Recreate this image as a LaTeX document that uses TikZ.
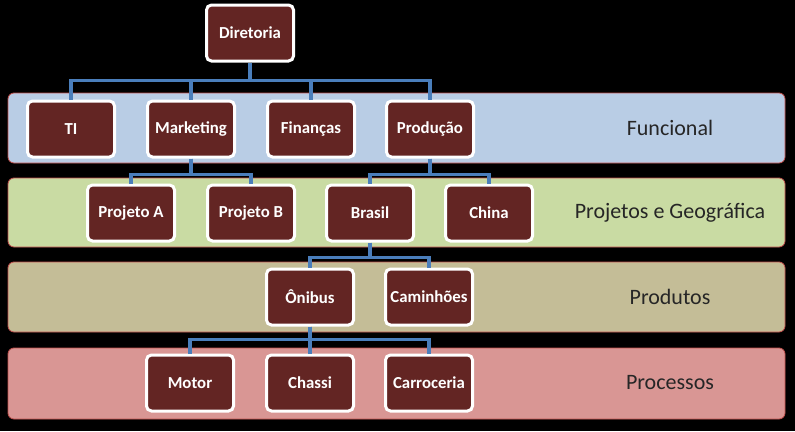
\documentclass[tikz,border=0pt]{standalone}
\usepackage{fontspec}
\setmainfont{Carlito}
\definecolor{boxred}{HTML}{632523}
\definecolor{conn}{HTML}{4A7EBB}
\definecolor{bandA}{HTML}{B9CDE5}
\definecolor{bandB}{HTML}{C9DBA3}
\definecolor{bandC}{HTML}{C4BD97}
\definecolor{bandD}{HTML}{D99694}
\definecolor{bandedge}{HTML}{C0504D}
\begin{document}
\begin{tikzpicture}[x=1pt,y=-1pt,
  unit/.style={draw=white, line width=3pt, fill=boxred, rounded corners=5pt,
    minimum width=87pt, minimum height=56pt, inner sep=0pt,
    text=white, font=\fontsize{16.8}{19}\selectfont\bfseries},
  band/.style={draw=bandedge, line width=0.8pt, rounded corners=6pt},
  bandlabel/.style={font=\fontsize{22}{26}\selectfont, text=black!85, inner sep=0pt},
  link/.style={draw=conn, line width=3.2pt}]
\fill[black] (0,0) rectangle (795,431);
\useasboundingbox (0,0) rectangle (795,431);
% bands
\draw[band, fill=bandA] (8,93) rectangle (785,163);
\draw[band, fill=bandB] (8,178) rectangle (785,247);
\draw[band, fill=bandC] (8,262) rectangle (785,332);
\draw[band, fill=bandD] (8,348) rectangle (785,419);
\node[bandlabel] (lf) at (670,128) {Funcional};
\node[bandlabel] (lp) at (670,213) {Projetos e Geográfica};
\node[bandlabel] (lpr) at (670,297) {Produtos};
\node[bandlabel] (lpc) at (670,383) {Processos};
% nodes
\node[unit] (dir) at (250,33) {Diretoria};
\node[unit] (ti) at (71,129) {TI};
\node[unit] (mkt) at (191,129) {Marketing};
\node[unit] (fin) at (311,129) {Finanças};
\node[unit] (prod) at (430,129) {Produção};
\node[unit] (pa) at (131,213) {Projeto A};
\node[unit] (pb) at (251,213) {Projeto B};
\node[unit] (br) at (370,213) {Brasil};
\node[unit] (cn) at (489,213) {China};
\node[unit] (oni) at (310,297) {Ônibus};
\node[unit] (cam) at (429,297) {Caminhões};
\node[unit] (mot) at (190,383) {Motor};
\node[unit] (cha) at (310,383) {Chassi};
\node[unit] (car) at (429,383) {Carroceria};
% connectors
\foreach \c in {ti,mkt,fin,prod}
  \draw[link] (dir.south) -- ++(0,18) -| (\c.north);
\foreach \c in {pa,pb}
  \draw[link] (mkt.south) -- ++(0,16) -| (\c.north);
\foreach \c in {br,cn}
  \draw[link] (prod.south) -- ++(0,16) -| (\c.north);
\foreach \c in {oni,cam}
  \draw[link] (br.south) -- ++(0,15) -| (\c.north);
\foreach \c in {mot,cha,car}
  \draw[link] (oni.south) -- ++(0,13) -| (\c.north);
\end{tikzpicture}
\end{document}
